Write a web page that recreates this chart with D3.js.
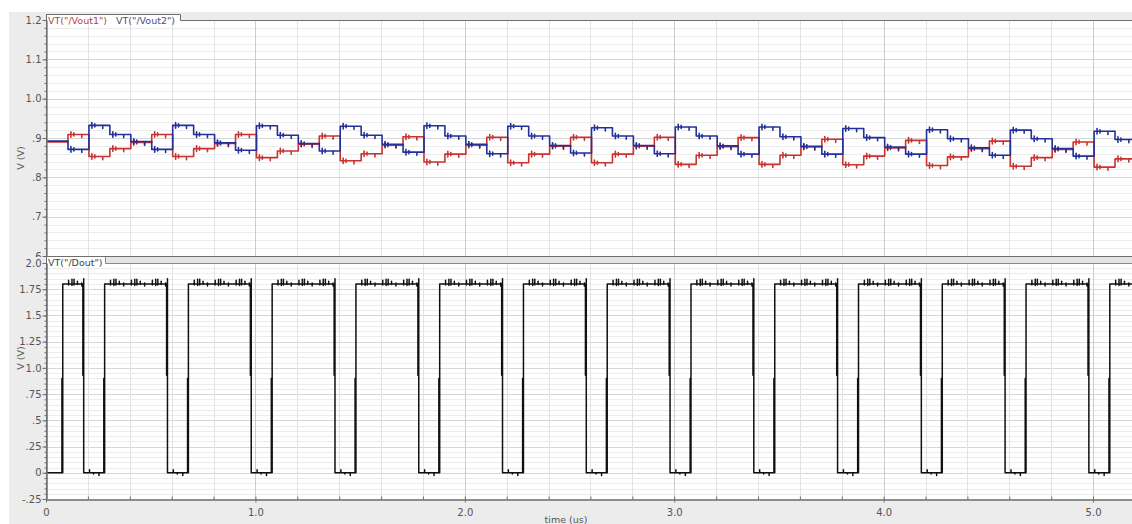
<!DOCTYPE html>
<html>
<head>
<meta charset="utf-8">
<script src="https://cdn.jsdelivr.net/npm/d3@7"></script>
<style>
  html, body { margin: 0; padding: 0; background: #ffffff; }
  svg { display: block; }
  text { font-family: "DejaVu Sans", Verdana, sans-serif; }
</style>
</head>
<body>
<svg id="chart" width="1132" height="524"></svg>
<script>
// ---- waveform data (time in us, voltage in V) ----
// switching instants of the differential outputs
const clockTimes = [
  0.105, 0.205, 0.305, 0.405, 0.505, 0.605, 0.705, 0.805, 0.905, 1.005,
  1.105, 1.205, 1.305, 1.405, 1.505, 1.605, 1.705, 1.805, 1.905, 2.005,
  2.105, 2.205, 2.305, 2.405, 2.505, 2.605, 2.705, 2.805, 2.905, 3.005,
  3.105, 3.205, 3.305, 3.405, 3.505, 3.605, 3.705, 3.805, 3.905, 4.005,
  4.105, 4.205, 4.305, 4.405, 4.505, 4.605, 4.705, 4.805, 4.905, 5.005,
  5.105
];
// settled level of /Vout1 in each interval (before first switch, then after each one)
const vout1Levels = [
  0.890,
  0.909, 0.853, 0.873, 0.889,
  0.909, 0.853, 0.873, 0.886,
  0.909, 0.850, 0.867, 0.884,
  0.905, 0.842, 0.860, 0.882,
  0.903, 0.839, 0.859, 0.882,
  0.902, 0.837, 0.859, 0.879,
  0.902, 0.837, 0.859, 0.879,
  0.902, 0.833, 0.856, 0.878,
  0.901, 0.833, 0.856, 0.877,
  0.897, 0.832, 0.854, 0.875,
  0.894, 0.830, 0.852, 0.873,
  0.892, 0.828, 0.850, 0.871,
  0.890, 0.826, 0.847
];
// settled level of /Vout2 in each interval
const vout2Levels = [
  0.892,
  0.871, 0.932, 0.909, 0.891,
  0.871, 0.932, 0.909, 0.888,
  0.869, 0.931, 0.907, 0.886,
  0.867, 0.930, 0.907, 0.884,
  0.864, 0.931, 0.905, 0.884,
  0.860, 0.930, 0.905, 0.881,
  0.862, 0.926, 0.905, 0.881,
  0.860, 0.928, 0.905, 0.880,
  0.859, 0.928, 0.903, 0.879,
  0.859, 0.924, 0.901, 0.877,
  0.859, 0.921, 0.898, 0.875,
  0.856, 0.920, 0.898, 0.873,
  0.854, 0.917, 0.896
];
// small kick-back ticks after each switch: offset (us), up and down excursion (V)
const voutTickOffsets = [0.014, 0.028, 0.066];
const voutTickUp      = [0.007, 0.004, 0.000];
const voutTickDown    = [-0.007, -0.004, -0.008];

// comparator output edges, alternating rise / fall
const doutEdges = [
  0.08, 0.18, 0.28, 0.58, 0.68, 0.98, 1.08, 1.38, 1.48, 1.78,
  1.88, 2.18, 2.28, 2.58, 2.68, 2.98, 3.08, 3.38, 3.48, 3.78,
  3.88, 4.18, 4.28, 4.58, 4.68, 4.98, 5.08
];
const doutLow = 0.0;
const doutHigh = 1.8;
const doutEdgeMid = [0.9, 0.93];       // half-swing step on rise / fall
const doutFallPeak = 1.85;             // overshoot right before a falling edge
// clock feed-through glitches on the high level (offset after switch, up, down)
const highGlitchOffsets = [0.003, 0.019, 0.029, 0.045, 0.066];
const highGlitchUp      = [0.035, 0.045, 0.045, 0.025, 0.010];
const highGlitchDown    = [-0.010, -0.015, -0.010, -0.005, -0.020];
// and on the low level
const lowGlitchOffsets = [0.003, 0.022, 0.048];
const lowGlitchUp      = [0.030, 0.000, 0.000];
const lowGlitchDown    = [0.000, -0.012, -0.025];

// axis ticks
const topTicks = [0.6, 0.7, 0.8, 0.9, 1.0, 1.1, 1.2];
const topTickLabels = [".6", ".7", ".8", ".9", "1.0", "1.1", "1.2"];
const botTicks = [-0.25, 0, 0.25, 0.5, 0.75, 1.0, 1.25, 1.5, 1.75, 2.0];
const botTickLabels = ["-.25", "0", ".25", ".5", ".75", "1.0", "1.25", "1.5", "1.75", "2.0"];
const timeTicks = [0, 1, 2, 3, 4, 5];
const timeTickLabels = ["0", "1.0", "2.0", "3.0", "4.0", "5.0"];

// ---- layout ----
const W = 1132, H = 524;
const L = 46, R = 1132;
const TOP = { y0: 20, y1: 256 };
const BOT = { y0: 263, y1: 499 };
const T_MAX = 5.186;

const svg = d3.select("#chart");
const x = d3.scaleLinear().domain([0, T_MAX]).range([L, R]);
const yTop = d3.scaleLinear().domain([0.6, 1.2]).range([TOP.y1, TOP.y0]);
const yBot = d3.scaleLinear().domain([-0.25, 2.0]).range([BOT.y1, BOT.y0]);

const GRAY_BG = "#ececec";
const AXIS = "#6e6e6e";
const LABEL = "#555555";

// window background
svg.append("rect").attr("x", 0).attr("y", 0).attr("width", W).attr("height", H).attr("fill", "#ffffff");
svg.append("rect").attr("x", 9).attr("y", 12).attr("width", W - 9).attr("height", H - 12).attr("fill", GRAY_BG);

const defs = svg.append("defs");
defs.append("clipPath").attr("id", "clipTop").append("rect")
  .attr("x", L).attr("y", TOP.y0).attr("width", R - L).attr("height", TOP.y1 - TOP.y0);
defs.append("clipPath").attr("id", "clipBot").append("rect")
  .attr("x", L).attr("y", BOT.y0).attr("width", R - L).attr("height", BOT.y1 - BOT.y0);
// in the axis group's own coordinates (group is shifted right by the plot's left edge)
defs.append("clipPath").attr("id", "clipTopLabels").append("rect")
  .attr("x", -L).attr("y", 0).attr("width", L + 1).attr("height", 257);

// ---- panel backgrounds and grid ----
function drawGrid(y, yMin, yMax, minorStep, majorTicks, clipId) {
  const g = svg.append("g").attr("clip-path", `url(#${clipId})`);
  g.append("rect").attr("x", L).attr("y", y(yMax)).attr("width", R - L)
    .attr("height", y(yMin) - y(yMax)).attr("fill", "#ffffff");
  const minor = d3.range(yMin, yMax + 1e-9, minorStep);
  g.selectAll(".hminor").data(minor).join("line")
    .attr("x1", L).attr("x2", R)
    .attr("y1", d => Math.round(y(d)) + 0.5).attr("y2", d => Math.round(y(d)) + 0.5)
    .attr("stroke", "#ececec").attr("stroke-width", 1);
  g.selectAll(".hmajor").data(majorTicks).join("line")
    .attr("x1", L).attr("x2", R)
    .attr("y1", d => Math.round(y(d)) + 0.5).attr("y2", d => Math.round(y(d)) + 0.5)
    .attr("stroke", "#d6d6d6").attr("stroke-width", 1);
  const vLines = d3.range(0, T_MAX, 0.2);
  g.selectAll(".vline").data(vLines).join("line")
    .attr("x1", d => Math.round(x(d)) + 0.5).attr("x2", d => Math.round(x(d)) + 0.5)
    .attr("y1", y(yMax)).attr("y2", y(yMin))
    .attr("stroke", d => Math.abs(d - Math.round(d)) < 1e-6 ? "#cdcdcd" : "#e2e2e2")
    .attr("stroke-width", 1);
  return g;
}
drawGrid(yTop, 0.6, 1.2, 0.02, topTicks, "clipTop");
drawGrid(yBot, -0.25, 2.0, 0.05, botTicks, "clipBot");

// ---- traces ----
const line = d3.line().x(d => x(d[0])).y(d => d[2](d[1]));

function voutPoints(levels) {
  const pts = [[0, levels[0]]];
  clockTimes.forEach((t, i) => {
    const prev = levels[i], next = levels[i + 1];
    pts.push([t, prev], [t, next]);
    voutTickOffsets.forEach((dt, j) => {
      const tt = t + dt;
      if (tt < T_MAX) {
        pts.push([tt, next], [tt, next + voutTickUp[j]], [tt, next + voutTickDown[j]], [tt, next]);
      }
    });
  });
  pts.push([T_MAX, levels[levels.length - 1]]);
  return pts;
}

function doutState(t) {
  let n = 0;
  doutEdges.forEach(e => { if (e <= t) n++; });
  return n % 2 === 1;
}

function doutPoints() {
  const events = [];
  doutEdges.forEach((t, i) => events.push({ t, kind: i % 2 === 0 ? "rise" : "fall" }));
  clockTimes.forEach(t => {
    const high = doutState(t);
    const offs = high ? highGlitchOffsets : lowGlitchOffsets;
    const ups = high ? highGlitchUp : lowGlitchUp;
    const dns = high ? highGlitchDown : lowGlitchDown;
    offs.forEach((dt, j) => {
      const tt = t + dt;
      if (tt < T_MAX) events.push({ t: tt, kind: "glitch", up: ups[j], dn: dns[j] });
    });
  });
  events.sort((a, b) => a.t - b.t);
  const pts = [[0, doutLow]];
  let level = doutLow;
  events.forEach(e => {
    const t = e.t;
    if (e.kind === "rise") {
      pts.push([t - 0.004, doutLow], [t - 0.004, doutEdgeMid[0]], [t - 0.004, doutLow],
               [t, doutLow], [t, doutHigh]);
      level = doutHigh;
    } else if (e.kind === "fall") {
      pts.push([t - 0.004, doutHigh], [t - 0.004, doutEdgeMid[1]], [t - 0.004, doutHigh],
               [t, doutHigh], [t, doutFallPeak], [t, doutLow]);
      level = doutLow;
    } else {
      pts.push([t, level], [t, level + e.up], [t, level + e.dn], [t, level]);
    }
  });
  pts.push([T_MAX, level]);
  return pts;
}

const traceTop = svg.append("g").attr("clip-path", "url(#clipTop)");
traceTop.append("path")
  .attr("d", line(voutPoints(vout1Levels).map(p => [p[0], p[1], yTop])))
  .attr("fill", "none").attr("stroke", "#c8332f").attr("stroke-width", 1.6)
  .attr("stroke-linejoin", "round");
traceTop.append("path")
  .attr("d", line(voutPoints(vout2Levels).map(p => [p[0], p[1], yTop])))
  .attr("fill", "none").attr("stroke", "#22309a").attr("stroke-width", 1.6)
  .attr("stroke-linejoin", "round");

const traceBot = svg.append("g").attr("clip-path", "url(#clipBot)");
traceBot.append("path")
  .attr("d", line(doutPoints().map(p => [p[0], p[1], yBot])))
  .attr("fill", "none").attr("stroke", "#111111").attr("stroke-width", 1.5)
  .attr("stroke-linejoin", "round");

// ---- panel frames and header tabs ----
svg.append("rect").attr("x", L).attr("y", 14).attr("width", 180 - L).attr("height", 7).attr("fill", "#ffffff");
svg.append("path").attr("d", `M${L},14.5 H180.5 V20.5 H${R}`)
  .attr("fill", "none").attr("stroke", AXIS).attr("stroke-width", 1);

// band between the two panels with the Dout tab
svg.append("rect").attr("x", L).attr("y", 256).attr("width", R - L).attr("height", 7).attr("fill", "#e4e4e4");
svg.append("rect").attr("x", L).attr("y", 257).attr("width", 105 - L).attr("height", 7).attr("fill", "#ffffff");
svg.append("path").attr("d", `M${L},256.5 H${R}`)
  .attr("fill", "none").attr("stroke", AXIS).attr("stroke-width", 1);
svg.append("path").attr("d", `M105.5,257 V263.5 H${R}`)
  .attr("fill", "none").attr("stroke", "#8a8a8a").attr("stroke-width", 1);

// legend labels
svg.append("text").attr("x", 48).attr("y", 23.5).attr("font-size", 9.5)
  .attr("fill", "#b2443f").text('VT("/Vout1")');
svg.append("text").attr("x", 116).attr("y", 23.5).attr("font-size", 9.5)
  .attr("fill", "#4b4f7a").text('VT("/Vout2")');
svg.append("text").attr("x", 48).attr("y", 266).attr("font-size", 9.5)
  .attr("fill", "#444444").text('VT("/Dout")');

// ---- axes ----
function styleAxis(g) {
  g.selectAll(".domain").attr("stroke", AXIS);
  g.selectAll(".tick line").attr("stroke", AXIS);
  g.selectAll(".tick text").attr("fill", LABEL).attr("font-size", 10)
    .attr("font-family", '"DejaVu Sans", Verdana, sans-serif');
}

// top panel y axis
const topMinor = svg.append("g").attr("transform", `translate(${L + 0.5},0)`)
  .call(d3.axisLeft(yTop).tickValues(d3.range(0.6, 1.2001, 0.02)).tickSize(2).tickSizeOuter(0).tickFormat(""));
styleAxis(topMinor);
const topAxis = svg.append("g").attr("transform", `translate(${L + 0.5},0)`)
  .attr("clip-path", "url(#clipTopLabels)")
  .call(d3.axisLeft(yTop).tickValues(topTicks).tickSize(4).tickSizeOuter(0).tickPadding(1)
    .tickFormat((d, i) => topTickLabels[i]));
styleAxis(topAxis);

// bottom panel y axis
const botMinor = svg.append("g").attr("transform", `translate(${L + 0.5},0)`)
  .call(d3.axisLeft(yBot).tickValues(d3.range(-0.25, 2.0001, 0.05)).tickSize(2).tickSizeOuter(0).tickFormat(""));
styleAxis(botMinor);
const botAxis = svg.append("g").attr("transform", `translate(${L + 0.5},0)`)
  .call(d3.axisLeft(yBot).tickValues(botTicks).tickSize(4).tickSizeOuter(0).tickPadding(1)
    .tickFormat((d, i) => botTickLabels[i]));
styleAxis(botAxis);

// left border running up to the legend tab
svg.append("line").attr("x1", L + 0.5).attr("x2", L + 0.5).attr("y1", 14).attr("y2", BOT.y1)
  .attr("stroke", AXIS).attr("stroke-width", 1);

// time axis
const xMinor = svg.append("g").attr("transform", `translate(0,${BOT.y1 + 0.5})`)
  .call(d3.axisTop(x).tickValues(d3.range(0, T_MAX, 0.2)).tickSize(3).tickSizeOuter(0).tickFormat(""));
styleAxis(xMinor);
const xAxis = svg.append("g").attr("transform", `translate(0,${BOT.y1 + 0.5})`)
  .call(d3.axisBottom(x).tickValues(timeTicks).tickSize(3).tickSizeOuter(0).tickPadding(6)
    .tickFormat((d, i) => timeTickLabels[i]));
styleAxis(xAxis);

// axis titles
svg.append("text").attr("x", 566).attr("y", 523).attr("text-anchor", "middle")
  .attr("font-size", 9.5).attr("fill", LABEL).text("time (us)");
svg.append("text").attr("transform", `translate(24,${(TOP.y0 + TOP.y1) / 2 + 20}) rotate(-90)`)
  .attr("text-anchor", "middle").attr("font-size", 9.5).attr("fill", LABEL).text("V (V)");
svg.append("text").attr("transform", `translate(24,${(BOT.y0 + BOT.y1) / 2 - 23}) rotate(-90)`)
  .attr("text-anchor", "middle").attr("font-size", 9.5).attr("fill", LABEL).text("V (V)");
</script>
</body>
</html>
